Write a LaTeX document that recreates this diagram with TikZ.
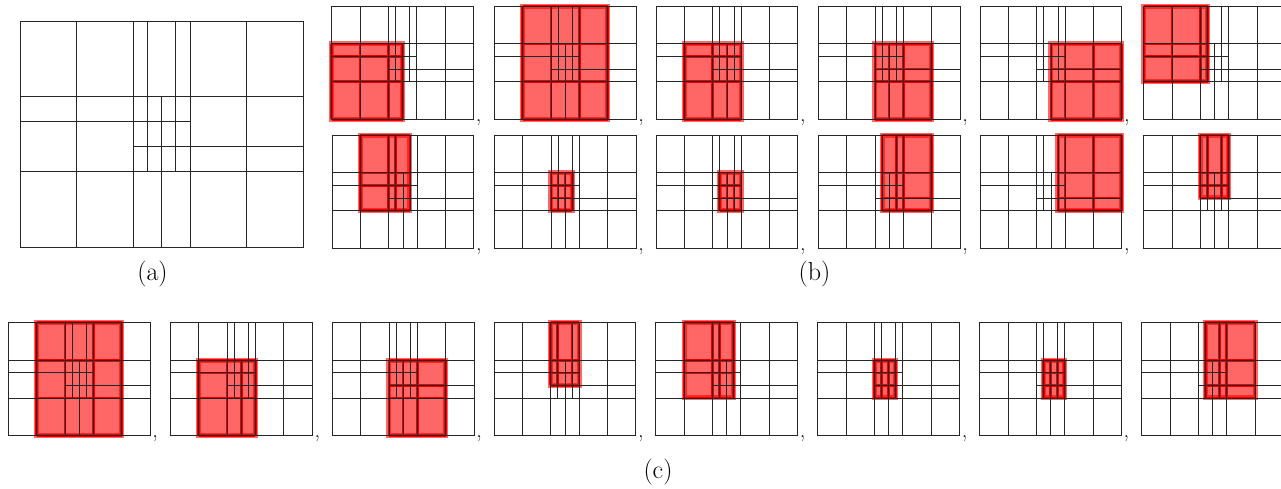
\documentclass[tikz,border=0pt]{standalone}
\usepackage{fontspec}
\tikzset{
  meshline/.style={draw=black!85, line width=0.7pt},
  bigmesh/.style={draw=black!85, line width=0.9pt},
  patchfill/.style={fill=red, fill opacity=0.6},
  patchhalo/.style={draw=red!60, line width=5pt},
  patchgrid/.style={draw=red!92!black, line width=2.6pt},
  lbl/.style={font=\fontsize{26}{30}\selectfont, inner sep=0pt},
  commastyle/.style={font=\fontsize{22}{26}\selectfont, inner sep=0pt, anchor=base west},
}
\newcommand\meshlines[1]{%
  \draw[#1] (0,0) rectangle (5,3);
  \foreach \xx in {1,2,3,4} {\draw[#1] (\xx,0) -- (\xx,3);}
  \foreach \yy in {1,2} {\draw[#1] (0,\yy) -- (5,\yy);}
  \draw[#1] (0,1.66667) -- (3,1.66667);
  \draw[#1] (2,1.33333) -- (5,1.33333);
  \draw[#1] (2.25,1) -- (2.25,3);
  \draw[#1] (2.75,1) -- (2.75,3);
  \draw[#1] (2.5,0) -- (2.5,2);
}
\newcommand\patch[8]{%
  \draw[patchhalo] (#1,#5) rectangle (#4,#8);
  \fill[patchfill] (#1,#5) rectangle (#4,#8);
  \foreach \xx in {#1,#2,#3,#4} {\draw[patchgrid] (\xx,#5) -- (\xx,#8);}
  \foreach \yy in {#5,#6,#7,#8} {\draw[patchgrid] (#1,\yy) -- (#4,\yy);}
}
% #1 left px, #2 bottom px, #3 patch args, #4 comma name (empty = none)
\newcommand\thumb[4]{%
  \begin{scope}[xshift=#1pt, yshift=-#2pt, x=28.34pt, y=37.73pt]
    \patch#3
    \meshlines{meshline}
    \if\relax\detokenize{#4}\relax\else
      \node[commastyle] (#4) at (5.08,-0.06) {,};
    \fi
  \end{scope}
}
\begin{document}
\begin{tikzpicture}[x=1pt, y=-1pt]
\useasboundingbox (0,0) rectangle (1281,489);
\clip (0,0) rectangle (1281,489);
% (a)
\begin{scope}[xshift=20pt, yshift=-247.3pt, x=56.67pt, y=75.43pt]
  \meshlines{bigmesh}
\end{scope}
\node[lbl, anchor=base] (la) at (152.5,280) {(a)};
% (b) row 1
\thumb{331.7}{119.3}{{0}{1}{2}{2.5}{0}{1}{1.66667}{2}}{cb1}
\thumb{494.3}{119.3}{{1}{2}{3}{4}{0}{1}{2}{3}}{cb2}
\thumb{656}{119.3}{{1}{2}{2.5}{3}{0}{1}{1.66667}{2}}{cb3}
\thumb{818.3}{119.3}{{2}{2.5}{3}{4}{0}{1}{1.33333}{2}}{cb4}
\thumb{980}{119.3}{{2.5}{3}{4}{5}{0}{1}{1.33333}{2}}{cb5}
\thumb{1143.8}{119.3}{{0}{1}{2}{2.25}{1}{1.66667}{2}{3}}{}
% (b) row 2
\thumb{332}{248.3}{{1}{2}{2.25}{2.75}{1}{1.66667}{2}{3}}{cb7}
\thumb{494.3}{248.3}{{2}{2.25}{2.5}{2.75}{1}{1.33333}{1.66667}{2}}{cb8}
\thumb{656}{248.3}{{2.25}{2.5}{2.75}{3}{1}{1.33333}{1.66667}{2}}{cb9}
\thumb{818.3}{248.3}{{2.25}{2.75}{3}{4}{1}{1.33333}{2}{3}}{cb10}
\thumb{980}{248.3}{{2.75}{3}{4}{5}{1}{1.33333}{2}{3}}{cb11}
\thumb{1143.5}{248.3}{{2}{2.25}{2.75}{3}{1.33333}{1.66667}{2}{3}}{}
\node[lbl, anchor=base] (lb) at (814.5,280) {(b)};
% (c)
\thumb{8.3}{435.7}{{1}{2}{3}{4}{0}{1}{2}{3}}{cc1}
\thumb{170.4}{435.7}{{1}{2}{2.5}{3}{0}{1}{1.66667}{2}}{cc2}
\thumb{332.2}{435.7}{{2}{2.5}{3}{4}{0}{1}{1.33333}{2}}{cc3}
\thumb{494}{435.7}{{2}{2.25}{2.75}{3}{1.33333}{1.66667}{2}{3}}{cc4}
\thumb{655.8}{435.7}{{1}{2}{2.25}{2.75}{1}{1.66667}{2}{3}}{cc5}
\thumb{817.7}{435.7}{{2}{2.25}{2.5}{2.75}{1}{1.33333}{1.66667}{2}}{cc6}
\thumb{979.5}{435.7}{{2.25}{2.5}{2.75}{3}{1}{1.33333}{1.66667}{2}}{cc7}
\thumb{1141.7}{435.7}{{2.25}{2.75}{3}{4}{1}{1.33333}{2}{3}}{}
\node[lbl, anchor=base] (lc) at (658,478) {(c)};
\end{tikzpicture}
\end{document}
